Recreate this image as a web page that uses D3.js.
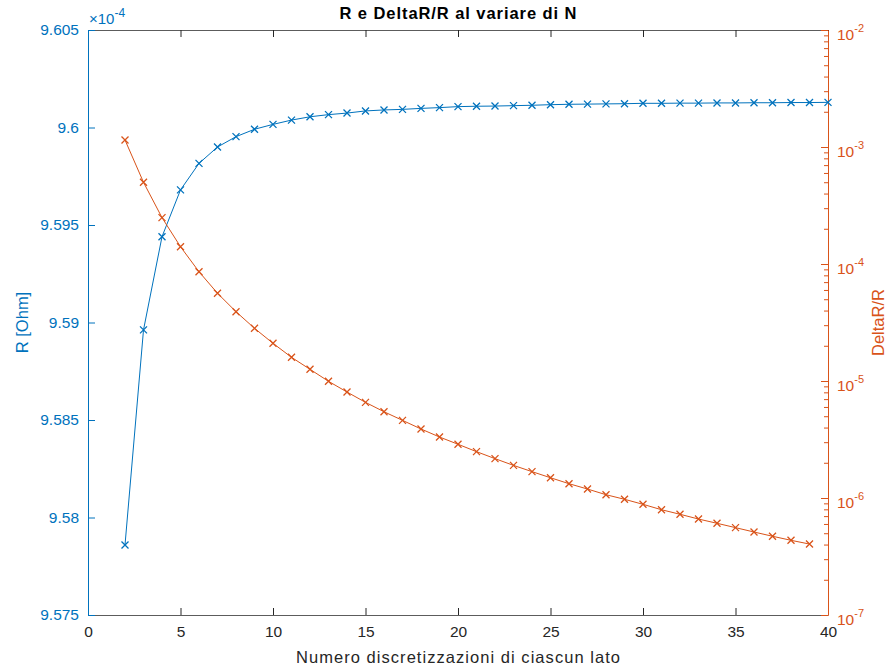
<!DOCTYPE html>
<html>
<head>
<meta charset="utf-8">
<style>
    body { margin: 0; background: #fff; }
    svg { display: block; font-family: 'Liberation Sans', Arial, Helvetica, sans-serif; }
    .tick text { font-size: 15.5px; }
</style>
</head>
<body>
<svg id="chart" width="894" height="671"></svg>

<script src="https://cdn.jsdelivr.net/npm/d3@7/dist/d3.min.js"></script>
<script>
    // resistance R (x1e-4 Ohm) against number of divisions, N = 2..40
    const nR = [2, 3, 4, 5, 6, 7, 8, 9, 10, 11, 12, 13, 14, 15, 16, 17, 18, 19, 20, 21,
        22, 23, 24, 25, 26, 27, 28, 29, 30, 31, 32, 33, 34, 35, 36, 37, 38, 39, 40];
    const rValues = [9.57859, 9.58962, 9.59440, 9.59680, 9.59816, 9.59900, 9.59953, 9.59991,
        9.60016, 9.60038, 9.60055, 9.60066, 9.60074, 9.60085, 9.60090, 9.60093, 9.60098,
        9.60102, 9.60107, 9.60109, 9.60110, 9.60112, 9.60114, 9.60117, 9.60119, 9.60120,
        9.60121, 9.60122, 9.60124, 9.60124, 9.60125, 9.60125, 9.60126, 9.60126, 9.60127,
        9.60127, 9.60128, 9.60128, 9.60129];

    // relative change DeltaR/R, N = 2..39
    const nDelta = [2, 3, 4, 5, 6, 7, 8, 9, 10, 11, 12, 13, 14, 15, 16, 17, 18, 19, 20, 21,
        22, 23, 24, 25, 26, 27, 28, 29, 30, 31, 32, 33, 34, 35, 36, 37, 38, 39];
    const deltaValues = [1.148e-3, 4.99e-4, 2.49e-4, 1.405e-4, 8.59e-5, 5.62e-5, 3.91e-5,
        2.82e-5, 2.10e-5, 1.594e-5, 1.259e-5, 9.94e-6, 8.05e-6, 6.57e-6, 5.46e-6, 4.61e-6,
        3.89e-6, 3.32e-6, 2.88e-6, 2.49e-6, 2.17e-6, 1.90e-6, 1.68e-6, 1.49e-6, 1.325e-6,
        1.193e-6, 1.067e-6, 9.75e-7, 8.83e-7, 7.94e-7, 7.26e-7, 6.61e-7, 6.08e-7, 5.58e-7,
        5.12e-7, 4.71e-7, 4.35e-7, 4.04e-7];

    const xTicks = [0, 5, 10, 15, 20, 25, 30, 35, 40];
    const leftTicks = [9.575, 9.58, 9.585, 9.59, 9.595, 9.6, 9.605];
    const rightExponents = [-7, -6, -5, -4, -3, -2];

    const blue = "#0072BD";
    const orange = "#D95319";
    const axisGray = "#262626";

    const width = 894, height = 671;
    const margin = { top: 30, right: 66, bottom: 56, left: 88 };
    const plotW = width - margin.left - margin.right;
    const plotH = height - margin.top - margin.bottom;

    let svg = d3.select("#chart");

    let x = d3.scaleLinear().domain([0, 40]).range([margin.left, margin.left + plotW]);
    let yL = d3.scaleLinear().domain([9.575, 9.605]).range([margin.top + plotH, margin.top]);
    let yR = d3.scaleLog().domain([1e-7, 1e-2]).range([margin.top + plotH, margin.top]);

    // minor log ticks 2..9 for each decade
    let minorTicks = [];
    rightExponents.slice(0, -1).forEach(e => {
        [2, 3, 4, 5, 6, 7, 8, 9].forEach(m => minorTicks.push(m * Math.pow(10, e)));
    });

    // bottom axis
    let xAxisBottom = svg.append("g")
        .attr("transform", `translate(0,${margin.top + plotH})`)
        .call(d3.axisBottom(x).tickValues(xTicks).tickSizeInner(-7).tickSizeOuter(0).tickPadding(12));
    xAxisBottom.select(".domain").attr("stroke", axisGray).attr("stroke-opacity", 0.75);
    xAxisBottom.selectAll(".tick line").attr("stroke", axisGray);
    xAxisBottom.selectAll(".tick text").attr("fill", axisGray).attr("dy", "0.71em")
        .attr("y", 11).attr("font-family", "'Liberation Sans', Arial, sans-serif");

    // top axis (box line with ticks only)
    let xAxisTop = svg.append("g")
        .attr("transform", `translate(0,${margin.top})`)
        .call(d3.axisTop(x).tickValues(xTicks).tickSizeInner(-7).tickSizeOuter(0).tickFormat(""));
    xAxisTop.select(".domain").attr("stroke", axisGray).attr("stroke-opacity", 0.75);
    xAxisTop.selectAll(".tick line").attr("stroke", axisGray);

    // left axis (R)
    let yAxisLeft = svg.append("g")
        .attr("transform", `translate(${margin.left},0)`)
        .call(d3.axisLeft(yL).tickValues(leftTicks).tickSizeInner(-7).tickSizeOuter(0)
            .tickPadding(9).tickFormat(d3.format(".3~f")));
    yAxisLeft.select(".domain").attr("stroke", blue);
    yAxisLeft.selectAll(".tick line").attr("stroke", blue);
    yAxisLeft.selectAll(".tick text").attr("fill", blue)
        .attr("font-family", "'Liberation Sans', Arial, sans-serif");

    // right axis (DeltaR/R, log)
    let yAxisRightMinor = svg.append("g")
        .attr("transform", `translate(${margin.left + plotW},0)`)
        .call(d3.axisRight(yR).tickValues(minorTicks).tickSizeInner(-4).tickSizeOuter(0).tickFormat(""));
    yAxisRightMinor.select(".domain").remove();
    yAxisRightMinor.selectAll(".tick line").attr("stroke", orange);

    let yAxisRight = svg.append("g")
        .attr("transform", `translate(${margin.left + plotW},0)`)
        .call(d3.axisRight(yR).tickValues(rightExponents.map(e => Math.pow(10, e)))
            .tickSizeInner(-7).tickSizeOuter(0).tickPadding(12).tickFormat(""));
    yAxisRight.select(".domain").attr("stroke", orange);
    yAxisRight.selectAll(".tick line").attr("stroke", orange);
    yAxisRight.selectAll(".tick text")
        .attr("fill", orange)
        .attr("x", 9)
        .attr("dy", "0.6em")
        .attr("font-family", "'Liberation Sans', Arial, sans-serif")
        .each(function (d) {
            let t = d3.select(this);
            t.text("10");
            t.append("tspan")
                .attr("dy", "-0.75em")
                .attr("font-size", "11px")
                .text(Math.round(Math.log10(d)));
        });

    // exponent label for left axis
    let expLabel = svg.append("text")
        .attr("x", margin.left + 1)
        .attr("y", 24)
        .attr("fill", blue)
        .attr("font-size", "15px");
    expLabel.append("tspan").text("\u00d710");
    expLabel.append("tspan").attr("dy", "-0.6em").attr("font-size", "12px").text("-4");

    // series
    const cross = 3.5;
    function drawSeries(xs, ys, yScale, color) {
        let pts = xs.map((n, i) => [x(n), yScale(ys[i])]);
        svg.append("path")
            .attr("d", d3.line()(pts))
            .attr("fill", "none")
            .attr("stroke", color)
            .attr("stroke-width", 1);
        svg.append("g")
            .selectAll("path")
            .data(pts)
            .join("path")
            .attr("d", p => `M${p[0] - cross},${p[1] - cross}L${p[0] + cross},${p[1] + cross}` +
                `M${p[0] - cross},${p[1] + cross}L${p[0] + cross},${p[1] - cross}`)
            .attr("stroke", color)
            .attr("stroke-width", 1.3)
            .attr("fill", "none");
    }
    drawSeries(nR, rValues, yL, blue);
    drawSeries(nDelta, deltaValues, yR, orange);

    // title and axis labels
    svg.append("text")
        .attr("x", margin.left + plotW / 2)
        .attr("y", 19)
        .attr("text-anchor", "middle")
        .attr("font-weight", "bold")
        .attr("font-size", "16.5px")
        .attr("textLength", 237)
        .attr("lengthAdjust", "spacing")
        .attr("fill", "#000")
        .text("R e DeltaR/R al variare di N");

    svg.append("text")
        .attr("x", margin.left + plotW / 2)
        .attr("y", 663)
        .attr("text-anchor", "middle")
        .attr("font-size", "16.5px")
        .attr("textLength", 324)
        .attr("lengthAdjust", "spacing")
        .attr("fill", axisGray)
        .text("Numero discretizzazioni di ciascun lato");

    svg.append("text")
        .attr("transform", `translate(28,${margin.top + plotH / 2}) rotate(-90)`)
        .attr("text-anchor", "middle")
        .attr("font-size", "16.5px")
        .attr("fill", blue)
        .text("R [Ohm]");

    svg.append("text")
        .attr("transform", `translate(884,${margin.top + plotH / 2}) rotate(-90)`)
        .attr("text-anchor", "middle")
        .attr("font-size", "16.5px")
        .attr("fill", orange)
        .text("DeltaR/R");
</script>
</body>
</html>
